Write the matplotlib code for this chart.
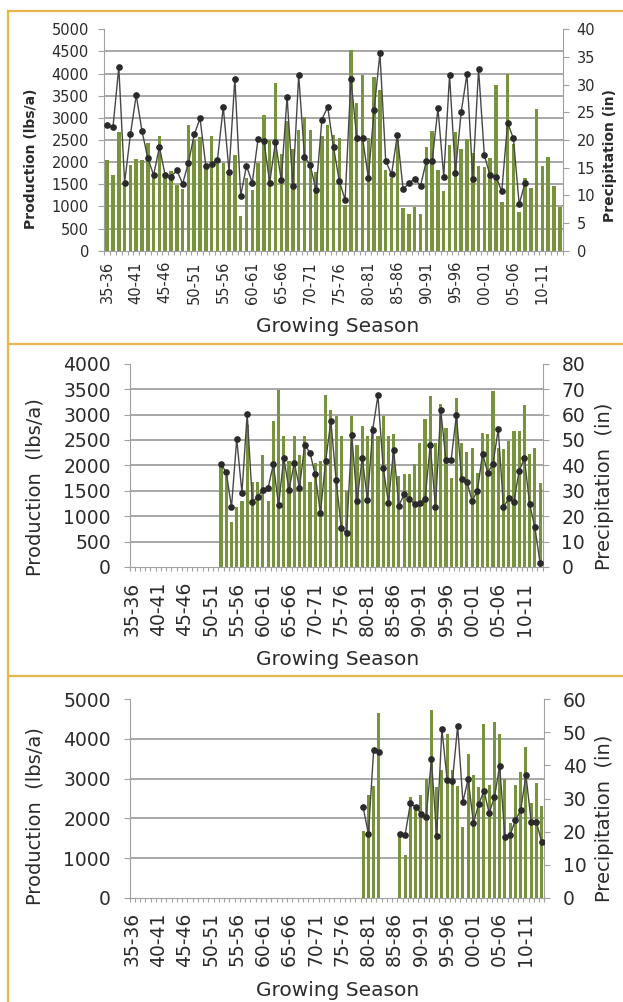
import numpy as np
import matplotlib.pyplot as plt
from matplotlib.lines import Line2D

# growing seasons 1935-36 .. 2013-14
seasons = [f"{y % 100:02d}-{(y + 1) % 100:02d}" for y in range(1935, 2014)]

# panel 1 : production (lbs/a) and precipitation (in)
prod1 = [2050, 1700, 2670, 1450, 1940, 2060, 2040, 2430, 1650, 2590,
         1650, 1810, 1490, 1390, 2840, 2500, 2560, 1850, 2580, 1950,
         1970, 1750, 2150, 780, 1650, 1360, 1970, 3060, 2500, 3780,
         2180, 2930, 2300, 2730, 3020, 2730, 1770, 2600, 2840, 2610,
         2550, 1040, 4530, 3340, 3970, 2550, 3920, 3630, 1820, 1650,
         2500, 970, 820, 990, 840, 2350, 2710, 1820, 1340, 2390,
         2670, 2290, 2520, 2200, 1920, 1880, 2090, 3740, 1100, 3980,
         2400, 870, 1650, 1420, 3210, 1920, 2120, 1470, 990]
prec1 = [22.7, 22.4, 33.1, 12.3, 21.0, 28.1, 21.6, 16.7, 13.7, 18.7,
         13.6, 13.4, 14.5, 12.1, 15.9, 21.0, 23.9, 15.3, 15.6, 16.4,
         26.0, 14.3, 31.1, 9.9, 15.3, 12.3, 20.2, 19.9, 12.3, 19.7,
         12.7, 27.8, 11.7, 31.7, 17.0, 15.4, 10.9, 23.7, 26.0, 18.7,
         12.6, 9.2, 31.1, 20.4, 20.4, 13.2, 25.4, 35.7, 16.2, 13.8,
         20.9, 11.1, 12.2, 13.0, 11.7, 16.2, 16.2, 25.7, 13.4, 31.7,
         14.1, 25.0, 31.9, 13.0, 32.8, 17.2, 13.6, 13.4, 10.7, 23.1,
         20.3, 8.4, 12.2] + [None] * 6

# panel 2 : record starts 1952-53
prod2 = [None] * 17 + [
    2030, 1800, 890, 1190, 1300, 2800, 1680, 1680, 2200, 1300,
    2880, 3490, 2580, 2080, 2580, 2200, 2580, 1680, 2050, 2080,
    3380, 3090, 2970, 2580, 1490, 2970, 2400, 2780, 2580, 2780,
    2580, 2970, 2580, 2610, 1790, 1830, 1830, 2030, 2430, 2920,
    3360, 2440, 3210, 2730, 1760, 3330, 2430, 2270, 2350, 1840,
    2630, 2610, 3470, 2350, 2320, 2480, 2680, 2680, 3180, 2230,
    2350, 1660]
prec2 = [None] * 17 + [
    40.5, 37.2, 23.6, 50.4, 29.2, 60.3, 25.4, 27.7, 30.3, 31.1,
    40.4, 24.4, 42.9, 30.4, 41.0, 31.2, 48.0, 45.0, 36.5, 21.2,
    41.7, 57.4, 34.2, 15.3, 13.2, 51.8, 26.1, 42.9, 26.4, 54.0,
    67.5, 39.1, 25.3, 46.2, 24.1, 28.6, 26.8, 24.8, 25.0, 26.6,
    48.0, 23.6, 61.9, 42.0, 42.2, 59.8, 34.6, 33.6, 26.0, 29.9,
    44.5, 37.1, 40.7, 54.2, 23.5, 27.0, 25.7, 37.9, 42.8, 24.7,
    15.7, 1.6]

# panel 3 : record starts 1979-80, gap 83-84 .. 85-86
prod3 = [None] * 44 + [1690, 2590, 2810, 4660, None, None, None,
    1520, 1080, 2550, 2200, 2600, 3000, 4720, 2790, 3210, 4130,
    3210, 2820, 1770, 3620, 3100, 2780, 4380, 2850, 4430, 4130,
    3000, 1890, 2840, 3180, 3810, 2390, 2890, 2310]
prec3 = [None] * 44 + [27.3, 19.3, 44.7, 44.1, None, None, None,
    19.4, 19.1, 28.5, 27.5, 25.4, 24.4, 41.8, 18.7, 51.0, 35.6,
    35.3, 52.0, 29.0, 35.9, 22.7, 28.2, 32.3, 25.6, 30.4, 39.9,
    18.3, 19.0, 23.5, 26.4, 37.1, 23.0, 22.8, 16.9]

W, H = 623, 1002
GREEN = '#77933C'
GRID = '#a0a0a0'
GOLD = '#E8B64E'
TXT = '#2b2b2b'
plt.rcParams['font.family'] = 'DejaVu Sans'

fig = plt.figure(figsize=(W / 100, H / 100), dpi=100)


def rect(x0, x1, top, bot):  # pixel box -> figure fraction
    return [x0 / W, 1 - bot / H, (x1 - x0) / W, (bot - top) / H]


def num(v):
    return np.array([np.nan if a is None else a for a in v], dtype=float)


def panel(box, prod, prec, ymax, ystep, rmax, rstep, fs, lpad, rpad, xpad):
    x = np.arange(len(seasons))
    ax = fig.add_axes(rect(*box))
    ax.bar(x, num(prod), width=0.6, color=GREEN, zorder=2)
    yt = np.arange(0, ymax + 1, ystep)
    for v in yt[1:-1]:
        ax.axhline(v, color=GRID, lw=1.3, zorder=1)
    ax.set_xlim(-0.5, len(seasons) - 0.5)
    ax.set_ylim(0, ymax)
    ax.set_yticks(yt)
    ax.set_xticks(x[::5])
    ax.set_xticklabels(seasons[::5], rotation=90)
    ax.set_xticks(np.arange(-0.5, len(seasons), 1), minor=True)
    ax.tick_params(axis='x', which='major', length=0, pad=xpad, labelsize=fs, colors=TXT)
    ax.tick_params(axis='x', which='minor', length=3, width=0.8, color='#a0a0a0')
    ax.tick_params(axis='y', length=4, width=0.8, color='#a0a0a0', pad=lpad, labelsize=fs, labelcolor=TXT)
    for s in ['top', 'right']:
        ax.spines[s].set_visible(False)
    for s in ['left', 'bottom']:
        ax.spines[s].set_color('#a0a0a0')

    ax2 = ax.twinx()
    ax2.plot(x, num(prec), color='#474747', lw=1.0, marker='o', ms=3.8,
             mfc='#2a2a2a', mec='#2a2a2a', zorder=3)
    ax2.set_ylim(0, rmax)
    ax2.set_yticks(np.arange(0, rmax + 1, rstep))
    ax2.tick_params(axis='y', length=4, width=0.8, color='#a0a0a0', pad=rpad, labelsize=fs, labelcolor=TXT)
    for s in ['top', 'left', 'bottom']:
        ax2.spines[s].set_visible(False)
    ax2.spines['right'].set_color('#a0a0a0')
    return ax, ax2


panel((104.3, 562.7, 29.3, 250.7), prod1, prec1, 5000, 500, 40, 5, 10.5, 7, 6, 7.5)
panel((129.5, 542.7, 363.7, 567), prod2, prec2, 4000, 500, 80, 10, 13.5, 9.5, 9.5, 10.5)
panel((129.5, 544.3, 699.3, 897.7), prod3, prec3, 5000, 1000, 60, 10, 13.5, 9.5, 9.5, 10.5)


def label(x, y, s, size, weight='normal', rot=90, va='center'):
    fig.text(x / W, 1 - y / H, s, rotation=rot, ha='center', va=va,
             fontsize=size, fontweight=weight, color=TXT)


# panel 1 labels (bold axis titles)
label(31, 159, 'Production (lbs/a)', 10, 'bold')
label(610, 156, 'Precipitation (in)', 10, 'bold')
label(338, 331.5, 'Growing Season', 14.5, rot=0, va='baseline')
# panel 2
label(35, 487, 'Production  (lbs/a)', 14)
label(605, 486, 'Precipitation  (in)', 14)
label(338, 665, 'Growing Season', 14.5, rot=0, va='baseline')
# panel 3
label(35, 816, 'Production  (lbs/a)', 14)
label(605, 818, 'Precipitation  (in)', 14)
label(338, 996, 'Growing Season', 14.5, rot=0, va='baseline')

# gold frames around the three charts
for yy in [11, 344, 675.5]:
    fig.add_artist(Line2D([8.3 / W, 1], [1 - yy / H, 1 - yy / H], color=GOLD, lw=1.6))
fig.add_artist(Line2D([8.3 / W, 8.3 / W], [1 - 11 / H, 0], color=GOLD, lw=1.6))

fig.savefig('out.png', dpi=100)
